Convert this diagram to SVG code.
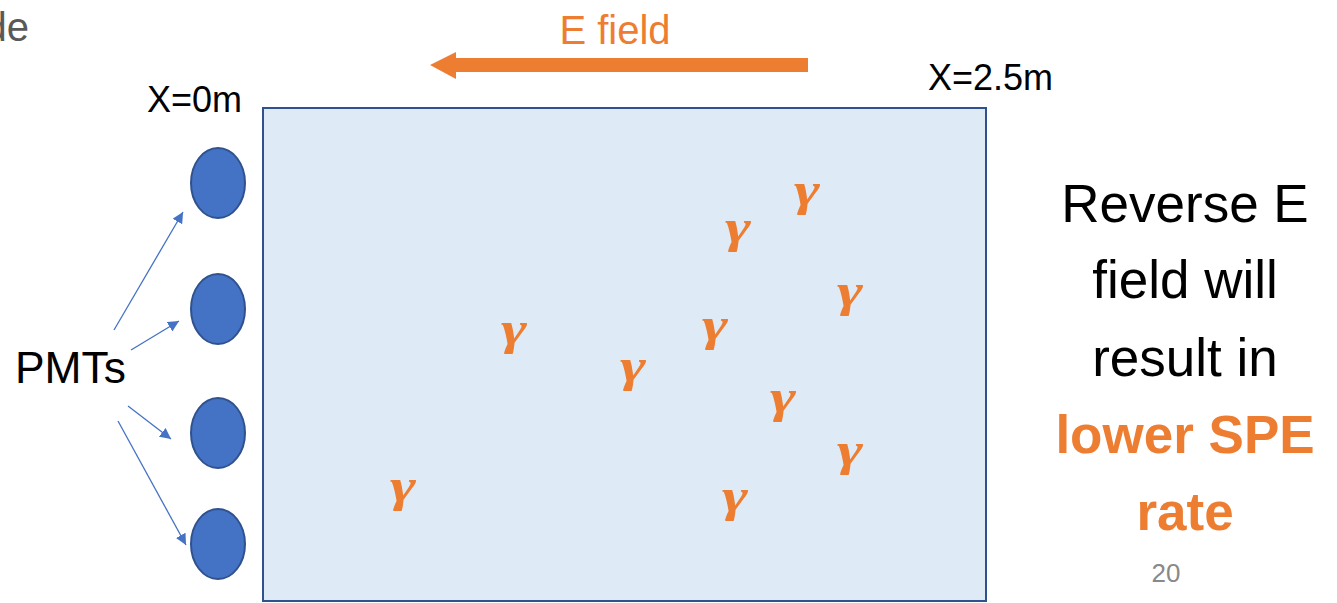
<svg xmlns="http://www.w3.org/2000/svg" width="1337" height="603" viewBox="0 0 1337 603">
<style>
.lbl{font-family:"Liberation Sans",Arial,sans-serif;fill:#000}
.g{font-family:"Liberation Serif","DejaVu Serif",serif;font-weight:bold;font-style:italic;font-size:46px;fill:#ED7D31;text-anchor:middle}
.pmt{fill:#4472C4;stroke:#2F528F;stroke-width:2}
.conn{stroke:#4472C4;stroke-width:1.3;fill:none;marker-end:url(#ah)}
.side{font-family:"Liberation Sans",Arial,sans-serif;font-size:53px;text-anchor:middle}
</style>
<defs>
<marker id="ah" viewBox="0 0 10 10" refX="10" refY="5" markerWidth="11" markerHeight="11" markerUnits="userSpaceOnUse" orient="auto">
<path d="M0,0 L10,5 L0,10 z" fill="#4472C4"/>
</marker>
</defs>
<rect width="1337" height="603" fill="#fff"/>
<text x="29" y="41" font-family="Liberation Sans,Arial,sans-serif" font-size="40" fill="#595959" text-anchor="end">de</text>

<g id="detector">
<rect x="263" y="108" width="723" height="493" fill="#DEEBF7" stroke="#2F528F" stroke-width="2"/>
</g>

<g id="efield">
<text x="615" y="44" font-family="Liberation Sans,Arial,sans-serif" font-size="40" fill="#ED7D31" text-anchor="middle">E field</text>
<path d="M808,58 L456,58 L456,52 L430,65 L456,79 L456,72 L808,72 z" fill="#ED7D31"/>
</g>

<g id="label-x0"><text class="lbl" x="147" y="112" font-size="36">X=0m</text></g>
<g id="label-x25"><text class="lbl" x="928" y="90" font-size="36">X=2.5m</text></g>

<g id="pmt1"><ellipse class="pmt" cx="218" cy="183" rx="27" ry="35"/></g>
<g id="pmt2"><ellipse class="pmt" cx="218" cy="309" rx="27" ry="35"/></g>
<g id="pmt3"><ellipse class="pmt" cx="218" cy="433" rx="27" ry="35"/></g>
<g id="pmt4"><ellipse class="pmt" cx="218" cy="544" rx="27" ry="35"/></g>

<g id="pmts-label"><text class="lbl" x="15" y="383" font-size="44" textLength="111" lengthAdjust="spacingAndGlyphs">PMTs</text></g>

<g id="connectors">
<line class="conn" x1="114" y1="330" x2="183" y2="212"/>
<line class="conn" x1="131" y1="350" x2="179" y2="321"/>
<line class="conn" x1="128" y1="406" x2="171" y2="439"/>
<line class="conn" x1="118" y1="421" x2="186" y2="545"/>
</g>

<g id="gammas">
<text class="g" x="807" y="205" textLength="26" lengthAdjust="spacingAndGlyphs">γ</text>
<text class="g" x="738" y="242" textLength="26" lengthAdjust="spacingAndGlyphs">γ</text>
<text class="g" x="850" y="306" textLength="26" lengthAdjust="spacingAndGlyphs">γ</text>
<text class="g" x="715" y="340" textLength="26" lengthAdjust="spacingAndGlyphs">γ</text>
<text class="g" x="514" y="344" textLength="26" lengthAdjust="spacingAndGlyphs">γ</text>
<text class="g" x="633" y="381" textLength="26" lengthAdjust="spacingAndGlyphs">γ</text>
<text class="g" x="403" y="501" textLength="26" lengthAdjust="spacingAndGlyphs">γ</text>
<text class="g" x="783" y="412" textLength="26" lengthAdjust="spacingAndGlyphs">γ</text>
<text class="g" x="850" y="465" textLength="26" lengthAdjust="spacingAndGlyphs">γ</text>
<text class="g" x="735" y="511" textLength="26" lengthAdjust="spacingAndGlyphs">γ</text>
</g>

<g id="conclusion">
<text class="side" x="1185" y="222">Reverse E</text>
<text class="side" x="1185" y="298">field will</text>
<text class="side" x="1185" y="376">result in</text>
<text class="side" x="1185" y="453" font-weight="bold" fill="#ED7D31">lower SPE</text>
<text class="side" x="1185" y="530" font-weight="bold" fill="#ED7D31">rate</text>
</g>
<text x="1166" y="582" font-family="Liberation Sans,Arial,sans-serif" font-size="26" fill="#898989" text-anchor="middle">20</text>
</svg>
